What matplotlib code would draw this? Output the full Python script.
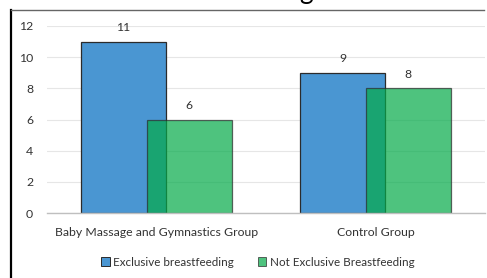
import matplotlib
matplotlib.use("Agg")
import matplotlib.pyplot as plt
from matplotlib.lines import Line2D
import numpy as np

categories = ["Baby Massage and Gymnastics Group", "Control Group"]
series_names = ["Exclusive breastfeeding", "Not Exclusive Breastfeeding"]
exclusive = [11, 9]
not_exclusive = [6, 8]
yticks = [0, 2, 4, 6, 8, 10, 12]
title = "Breastfeeding"

plt.rcParams['font.family'] = ['Lato', 'DejaVu Sans']

fig = plt.figure(figsize=(4.87, 2.78), dpi=100)
ax = fig.add_axes([47/487, 65/278, (485-47)/487, (213-26)/278])

x = np.arange(len(categories))
w = 0.39
off = 0.15
blue = "#4A96D2"
green = (0.02, 0.67, 0.29)
fs = 8.8
b1 = ax.bar(x - off, exclusive, w, color=blue, edgecolor="#2b2b2b", linewidth=0.9, zorder=3, label=series_names[0])
b2 = ax.bar(x + off, not_exclusive, w, color=green, alpha=0.71, edgecolor="#2b2b2b", linewidth=0.9, zorder=4, label=series_names[1])
for bars in (b1, b2):
    for r in bars:
        ax.annotate(f"{int(r.get_height())}", (r.get_x() + r.get_width()/2, r.get_height()),
                    xytext=(0, 10), textcoords="offset points", ha="center", va="center",
                    fontsize=fs, color="#333333")

ax.set_xlim(-0.5, 1.5)
ax.set_ylim(0, 12)
ax.set_yticks(yticks)
ax.set_xticks(x)
ax.set_xticklabels(categories)
ax.tick_params(axis='both', length=0, labelsize=fs, colors="#333333")
ax.tick_params(axis='x', pad=10)
ax.tick_params(axis='y', pad=10)
ax.grid(axis='y', color="#e6e6e6", linewidth=0.8, zorder=0)
for s in ("top", "right", "left"):
    ax.spines[s].set_visible(False)
ax.spines["bottom"].set_color("#bfbfbf")
ax.spines["bottom"].set_linewidth(1.0)
ax.spines["bottom"].set_zorder(5)

handles = [plt.Rectangle((0, 0), 1, 1, facecolor=blue, edgecolor="#2b2b2b", linewidth=0.7),
           plt.Rectangle((0, 0), 1, 1, facecolor=green, alpha=0.71, edgecolor="#2b2b2b", linewidth=0.7)]
fig.legend(handles, series_names, loc="center", bbox_to_anchor=(258/487, 16/278), ncol=2,
           frameon=False, fontsize=8.4, handlelength=0.7, handleheight=0.7, handletextpad=0.3,
           columnspacing=2.1, labelcolor="#333333")

# frame lines of the cropped chart
fig.add_artist(Line2D([11/487, 11/487], [0, 1 - 10/278], color="black", linewidth=1.6, transform=fig.transFigure))
fig.add_artist(Line2D([11/487, 484/487], [1 - 10/278, 1 - 10/278], color="#666666", linewidth=1.0, transform=fig.transFigure))

fig.text(314/487, 1 + 0.5/278, title, ha="right", va="baseline", fontsize=19, color="#000000")

fig.savefig("out.png", dpi=100)
